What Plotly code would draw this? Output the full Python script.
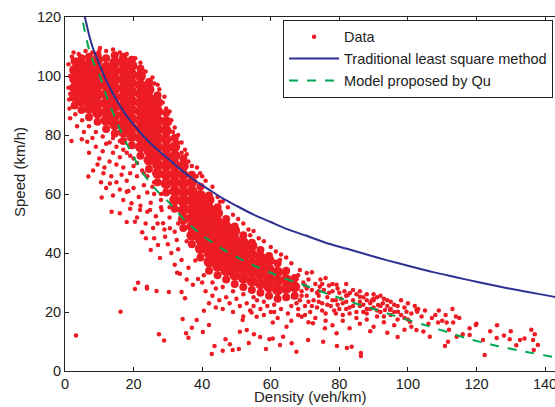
import plotly.graph_objects as go

# --- curves ---
blue_x = [5.0, 5.8, 7, 8, 10, 12, 14, 16, 18, 20, 23, 26, 30, 34, 38, 42, 46, 50, 55, 60, 65, 70,
          76, 82, 88, 94, 100, 107, 114, 121, 128, 135, 142, 146]
blue_y = [124, 120, 114, 110, 104, 98.5, 94, 90, 86.5, 83.5, 79.5, 76, 72, 68, 64.5, 61.5, 58.5, 56,
          53, 50.5, 48, 46, 43.5, 41.5, 39.5, 37.5, 35.7, 33.6, 31.8, 30, 28.3, 26.8, 25.3, 24.5]

green_x = [4.1, 4.9, 6, 7, 8.5, 10.2, 12, 14, 16, 18, 20, 22.5, 25, 27.5, 30, 35, 40, 45, 50, 55, 60,
           65, 70, 77, 85, 90, 98, 106, 112, 118, 126, 134, 143, 146]
green_y = [124, 120, 114, 109, 104, 99.8, 93.5, 87.5, 82, 77, 72.6, 67.5, 63.5, 60.3, 57.5, 51, 46, 42,
           38.7, 35.8, 33.3, 31, 29, 26, 22.8, 21, 18, 15.2, 13, 10.8, 8.5, 6.6, 4.6, 3.9]

# --- dense part of the cloud: density column -> speeds ---
core_cols = [2.8, 4.8, 7, 9.5, 12, 14.5, 17, 19.5, 22, 24.5, 27, 29.5, 32, 34.5, 37, 39.5,
             42, 44.5, 47, 49.5, 52, 54.5, 57, 59.5, 62, 64.5, 67]
core_rows = [
    [90, 93, 96, 99, 102, 105],
    [88.5, 91.5, 94.5, 97.5, 100.5, 103.5, 106],
    [86, 89, 92, 95, 98, 101, 104, 106.5],
    [84.5, 87.5, 90.5, 93.5, 96.5, 99.5, 102.5, 105.5, 107],
    [82, 85, 88, 91, 94, 97, 100, 103, 106],
    [80.5, 83.5, 86.5, 89.5, 92.5, 95.5, 98.5, 101.5, 104.5, 107],
    [78, 81, 84, 87, 90, 93, 96, 99, 102, 105, 106.5],
    [76.5, 79.5, 82.5, 85.5, 88.5, 91.5, 94.5, 97.5, 100.5, 103.5, 105.5],
    [73, 76, 79, 82, 85, 88, 91, 94, 97, 100, 102.5],
    [68.5, 71.5, 74.5, 77.5, 80.5, 83.5, 86.5, 89.5, 92.5, 95.5, 98],
    [64, 67, 70, 73, 76, 79, 82, 85, 88, 91, 93.5],
    [60.5, 63.5, 66.5, 69.5, 72.5, 75.5, 78.5, 81.5, 84.5, 87.5],
    [55, 58, 61, 64, 67, 70, 73, 76, 79],
    [48.5, 51.5, 54.5, 57.5, 60.5, 63.5, 66.5, 69.5, 72],
    [43, 46, 49, 52, 55, 58, 61, 64, 66.5],
    [38.5, 41.5, 44.5, 47.5, 50.5, 53.5, 56.5, 59.5, 62.5],
    [34, 37, 40, 43, 46, 49, 52, 55, 58, 59.5],
    [32.5, 35.5, 38.5, 41.5, 44.5, 47.5, 50.5, 53.5, 55.5],
    [31, 34, 37, 40, 43, 46, 49, 51.5],
    [29.5, 32.5, 35.5, 38.5, 41.5, 44.5, 47.5, 49],
    [28.5, 31.5, 34.5, 37.5, 40.5, 43.5, 46],
    [27.5, 30.5, 33.5, 36.5, 39.5, 42.5, 43.5],
    [26.5, 29.5, 32.5, 35.5, 38.5, 41],
    [25.5, 28.5, 31.5, 34.5, 37.5, 39],
    [24.5, 27.5, 30.5, 33.5, 36.5],
    [25, 28, 31, 34],
    [25.5, 28.5, 31.5],
]

# --- individual points around the cloud ---
dots_top = [(1, 96), (1.2, 92), (1.5, 100), (1, 104), (2.5, 108), (6, 108.5), (10, 108.5), (10.2, 109.5),
            (14, 109), (18, 107.5), (20.5, 106), (24.8, 98.6), (25.5, 99.5), (27.5, 95.5), (27, 97),
            (28.5, 91), (29.5, 89), (31, 85), (30.5, 84), (31.5, 81), (33, 80), (33, 77.5), (34, 74),
            (35, 75), (36, 71), (38.5, 69), (38.4, 66), (39.4, 67), (40, 66), (41, 64.5), (43, 62.5),
            (44.5, 59), (45.2, 57.4), (46, 57.5), (47.5, 55.5), (49, 53), (50.5, 51.5), (52, 50),
            (53.5, 48), (54, 46), (55, 47.5), (56.5, 45), (58, 44), (60, 42), (61.5, 40.5), (63, 39.5),
            (64.5, 38.5), (66, 36.5), (4, 107.5), (8, 108), (12, 108.5), (16, 108), (22, 104.5),
            (23.5, 101.5), (26, 97.5), (29, 93), (30.5, 88), (32, 82.5), (34, 77.5), (35.5, 73.5),
            (37, 69.5), (2, 106.5), (1.3, 89), (1.5, 94)]

dots_left = [(1.5, 85.7), (1.9, 78), (4.9, 78.6), (6.5, 77.7), (3.5, 83), (5.5, 81), (8, 79), (7, 74),
             (9, 76), (10, 72), (11, 74.5), (12, 77), (9.5, 70), (11.5, 69), (13, 71), (14, 74), (15, 70),
             (16, 72.5), (17, 69), (13.5, 66), (15, 64), (16.5, 66.5), (18, 64.5), (19, 67), (20, 69.5),
             (21, 66), (22.5, 68), (18.5, 61), (20, 62), (21.5, 59), (23, 63), (24, 60.5), (25, 57),
             (26, 60), (22, 56), (24, 54), (26.5, 52.5), (28, 55.5), (27, 50), (29, 48), (30.5, 52),
             (23.5, 50), (21, 52), (19, 55), (17, 58), (16, 61.5), (14, 59.5), (12, 62), (10.5, 64),
             (8.2, 68), (6.8, 65.9), (11.2, 67), (10.7, 58.8), (13.6, 54), (16, 53.5), (13.1, 63.6),
             (18, 60.8), (19.4, 56.9), (20.4, 50.6), (21.9, 54.6), (23.6, 45), (24.8, 54.6), (25.7, 48.5),
             (28.2, 54.6), (28.6, 50.1), (29.2, 45.5), (30.6, 48.4), (32, 47.2), (32.6, 44.4), (33, 41.3),
             (27.7, 38.3), (27.1, 42.7), (34, 37.6), (31, 40), (30, 43), (32, 36), (33.5, 33), (35.5, 31),
             (36, 35), (26, 45), (25, 41), (22.5, 47), (18, 50.5), (28, 60), (26, 64), (24, 66),
             (16, 78), (14, 79), (18, 74), (20, 72), (3, 87), (5, 85), (7, 83), (9, 81), (11, 79.5),
             (13, 77.5), (15, 76), (17, 75), (19, 73), (21, 70.5), (23, 67), (25.5, 62.5), (28, 58),
             (30.5, 55.5), (33, 50), (35.5, 44), (38, 37.5), (40.5, 32.5)]

dots_low = [(3.2, 12), (16.2, 20.1), (20.4, 27.8), (21.3, 29.9), (23.9, 28.6), (23.9, 28), (26.7, 27.1),
            (27.4, 12.5), (28.9, 10.3), (30.3, 26.8), (32.7, 33.3), (34, 26.8), (34.3, 17.6), (35, 24.7),
            (35.3, 12.8), (36, 11.3), (37, 14.7), (37.3, 29.2), (38.4, 17.3), (38.8, 31.2), (40.2, 13.2),
            (40.5, 20.4), (42, 15.6), (42.8, 5.8), (43.6, 8.5), (46, 6.9), (46.8, 10.8), (48.1, 9.1),
            (48.9, 7.1), (50.7, 7.5), (51, 13.3), (51.8, 17.3), (53, 13.9), (53.6, 9.5), (54.4, 19.8),
            (55.1, 12.5), (55.9, 18.4), (56.9, 11.5), (60.6, 11), (62.7, 8.8), (40, 30), (41, 27),
            (43, 25.5), (44, 28), (45, 24), (47, 25), (48, 23), (50, 24.5), (51, 22), (53, 23), (54, 20.5),
            (55, 22), (56, 24), (57, 21), (58, 19), (59, 22), (61, 20), (46, 21), (49, 20), (52, 18.5),
            (42, 23), (44, 21.5), (43, 30), (46, 28.5), (49, 27), (52, 26), (55, 25), (58, 23.5),
            (61, 22.5)]

dots_band = [(60.7, 37), (62.7, 37.6), (68.5, 34.2), (70.5, 33.2), (74.3, 28.6), (79.2, 29.2),
             (82.5, 25.8), (88, 24), (90, 24), (93.3, 20.7), (102.5, 20.7), (62, 31), (64, 33), (66, 30),
             (68, 32.5), (70, 29), (72, 33.5), (74, 27), (76, 31.5), (78, 24), (80, 26.5), (82, 29.5),
             (84, 27.5), (86, 22), (88, 26), (90, 24.5), (92, 20), (94, 24), (96, 22.5), (98, 19),
             (60, 20), (62, 18), (63, 21), (65, 19.5), (66, 17), (68, 21), (70, 19), (71, 16.5), (73, 18),
             (75, 20.5), (76, 17), (78, 15.5), (79, 19.5), (81, 17), (82, 21), (83, 14.5), (85, 18),
             (86, 16), (87, 20), (88, 17.5), (89, 13.5), (90, 15), (91, 18.5), (93, 16.5), (94, 13),
             (95, 19), (96, 15.5), (97, 11.5), (99, 14), (101, 15), (81, 23), (82, 25.5), (83, 21.5),
             (84, 24), (85, 26), (86, 23.5), (87, 25), (88, 21), (89, 23), (90, 21.5), (91, 25), (92, 22),
             (93, 24.5), (94, 22), (95, 23.5), (96, 20), (97, 22), (98, 24), (99, 21.5), (100, 23),
             (101, 19.5), (103, 21), (105, 20.5), (107, 18), (109, 20.5), (111, 19), (113, 21), (115, 18),
             (83.1, 26.4), (86, 25.2), (89.5, 24), (91.3, 22.4), (92.7, 23), (94.8, 20.7), (97.1, 20.1),
             (99.6, 20.1), (102.7, 20.1),
             (66, 22), (66.5, 25), (67, 28), (67.5, 31), (68, 19), (68.5, 24), (69, 27), (69.5, 30),
             (70, 22), (70.5, 25.5), (71, 31), (71.5, 20), (72, 27.5), (72.5, 24), (73, 29.5), (73.5, 21.5),
             (74, 25.5), (74.5, 31), (75, 23), (75.5, 27.5), (76, 19.5), (76.5, 25), (77, 29), (77.5, 22),
             (78, 27), (78.5, 20.5), (79, 24), (79.5, 28), (80, 21), (80.5, 24.5), (81, 19), (81.5, 27),
             (82, 23.5), (83, 19.5), (84, 22), (85, 20), (86, 27), (87, 22.5), (88, 19.5), (89, 21),
             (90, 26), (91, 20.5), (92, 25.5), (93, 18.5), (95, 21), (97, 17.5), (99, 18),
             (67.5, 23), (69, 25.5), (70.5, 28), (72, 22), (73.5, 26.5), (75, 29.5), (76.5, 22.5),
             (78, 29.5), (79.5, 22.5), (71, 23.5), (74, 23.5), (77, 26.5)]

dots_tail = [(63.6, 11.6), (66.1, 9.4), (67.5, 6.5), (70.9, 10.5), (75.3, 9.9), (75.8, 14.5), (79.2, 12.8),
             (83.6, 8.2), (72.3, 16.2), (69, 18.4), (64.6, 15), (60.6, 16.4), (59.6, 10.8), (58.6, 7.5),
             (82.2, 7.8), (86.3, 6.1), (86.3, 5.1), (79.3, 8.5), (100, 17.5), (102, 22), (104, 18.5),
             (106, 16), (108, 19), (110, 17), (112, 14), (114, 18.5), (116, 12.5), (118, 14.5), (120, 16),
             (124, 13.5), (126, 15.5), (128, 12), (130, 13.5), (134, 11), (136, 14), (137, 12.5),
             (100.6, 16.7), (102.5, 13.9), (104.5, 13.4), (106.4, 11.6), (108.8, 16.4), (111.3, 16.4),
             (113.2, 16.4), (111.7, 9.9), (110.8, 8.5), (114.2, 11.6), (118, 12.2), (119.8, 15.6),
             (121.9, 10.5), (122.4, 5.4), (125.9, 11.2), (129.7, 10.8), (131.6, 8.7), (132.7, 10.5),
             (136.5, 10.5), (137.9, 8.8), (136.7, 7.1)]

RED = '#ED1C24'

# inner part of each column gets the big markers, the two ends of a column smaller ones
inner_x, inner_y, edge_x, edge_y = [], [], [], []
for c, row in zip(core_cols, core_rows):
    for i, v in enumerate(row):
        if 0 < i < len(row) - 1:
            inner_x.append(c)
            inner_y.append(v)
        else:
            edge_x.append(c)
            edge_y.append(v)

dots = dots_top + dots_left + dots_low + dots_band + dots_tail
dot_x = [p[0] for p in dots]
dot_y = [p[1] for p in dots]

fig = go.Figure()

fig.add_trace(go.Scatter(x=inner_x, y=inner_y, mode='markers', showlegend=False, hoverinfo='skip',
                         marker=dict(color=RED, size=11, line=dict(width=0))))
fig.add_trace(go.Scatter(x=edge_x, y=edge_y, mode='markers', showlegend=False, hoverinfo='skip',
                         marker=dict(color=RED, size=8, line=dict(width=0))))
fig.add_trace(go.Scatter(x=dot_x, y=dot_y, mode='markers', name='Data',
                         marker=dict(color=RED, size=4.5, line=dict(width=0))))
fig.add_trace(go.Scatter(x=blue_x, y=blue_y, mode='lines', name='Traditional least square method',
                         line=dict(color='#2E3192', width=2, shape='spline', smoothing=0.6)))
fig.add_trace(go.Scatter(x=green_x, y=green_y, mode='lines', name='Model proposed by Qu',
                         line=dict(color='#00A651', width=2, dash='dash', shape='spline', smoothing=0.6)))

fig.update_layout(
    width=555, height=407,
    margin=dict(l=65, r=0, t=17, b=36, autoexpand=False),
    paper_bgcolor='white', plot_bgcolor='white',
    font=dict(family='Liberation Sans, Arial, sans-serif', size=14.5, color='#222'),
    legend=dict(x=0.445, y=0.992, xanchor='left', yanchor='top',
                bgcolor='white', bordercolor='#222', borderwidth=1,
                font=dict(size=14.5), itemwidth=50, tracegroupgap=0),
    annotations=[
        dict(text='Speed (km/h)', textangle=-90, xref='paper', yref='paper',
             x=-0.094, y=0.562, xanchor='center', yanchor='middle', showarrow=False,
             font=dict(size=15)),
        dict(text='Density (veh/km)', xref='paper', yref='paper',
             x=0.5, y=-0.1, xanchor='center', yanchor='bottom', showarrow=False,
             borderpad=0, font=dict(size=15)),
    ],
)

fig.update_xaxes(range=[0, 142.9], tickvals=[0, 20, 40, 60, 80, 100, 120, 140],
                 ticks='inside', ticklen=4, tickcolor='#222', ticklabeloverflow='allow',
                 showline=True, linecolor='#222', linewidth=1, mirror='ticks',
                 showgrid=False, zeroline=False)
fig.update_yaxes(range=[0, 120], tickvals=[0, 20, 40, 60, 80, 100, 120],
                 ticks='inside', ticklen=4, tickcolor='#222',
                 showline=True, linecolor='#222', linewidth=1, mirror=False,
                 showgrid=False, zeroline=False)

fig.write_html("out.html", config={'displayModeBar': False},
               post_script="document.body.style.margin='0';")
